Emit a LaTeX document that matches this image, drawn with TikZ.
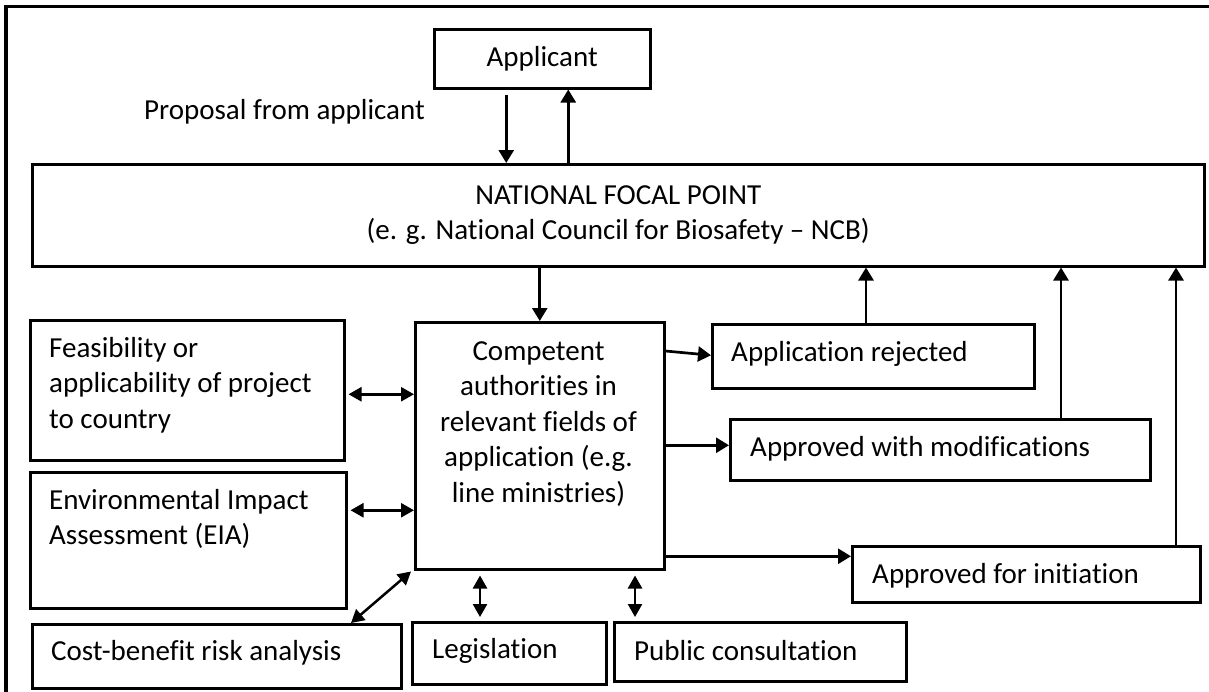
\documentclass[tikz,border=0pt]{standalone}
\usepackage{fontspec}
\setmainfont[Ligatures=NoCommon]{Carlito}
\usetikzlibrary{arrows.meta,calc}
\begin{document}
\begin{tikzpicture}[x=1pt,y=-1pt,
  box/.style={draw,line width=2.5pt,inner sep=0pt,anchor=north west},
  txt/.style={font=\fontsize{29}{35.5}\selectfont,inner sep=0pt},
  arr/.style={line width=2.7pt,-{Triangle[length=13pt,width=15pt]}},
  darr/.style={line width=2.5pt,{Triangle[length=13pt,width=14pt]}-{Triangle[length=13pt,width=14pt]}},
  frameline/.style={line width=3.2pt}]
\useasboundingbox (0,0) rectangle (1209,691);
\fill[white] (0,0) rectangle (1209,691);
\draw[frameline] (6,720) -- (6,6.5) -- (1230,6.5);

% boxes
\node[box,txt,minimum width=216pt,minimum height=59pt] (app) at (433,28) {Applicant};
\node[box,txt,align=center,minimum width=1172pt,minimum height=102pt] (nfp) at (31,163)
  {NATIONAL FOCAL POINT\\(e. g. National Council for Biosafety -- NCB)};
\node[box,minimum width=249pt,minimum height=247pt] (comp) at (414,321) {};
\node[box,minimum width=314pt,minimum height=140pt] (feas) at (29,319) {};
\node[box,minimum width=316pt,minimum height=136pt] (eia) at (29,471) {};
\node[box,minimum width=369pt,minimum height=64pt] (cost) at (31,623) {};
\node[box,minimum width=194pt,minimum height=62pt] (legis) at (411,621) {};
\node[box,minimum width=292pt,minimum height=59pt] (pub) at (613,621) {};
\node[box,minimum width=322pt,minimum height=64pt] (rej) at (711,323) {};
\node[box,minimum width=420pt,minimum height=61pt] (mod) at (729,418) {};
\node[box,minimum width=348pt,minimum height=56pt] (init) at (851,545) {};

% texts
\node[txt,anchor=west] (tprop) at (144,112) {Proposal from applicant};
\node[txt,anchor=west,align=left] (tfeas) at (49,385) {Feasibility or\\applicability of project\\to country};
\node[txt,anchor=west,align=left] (teia) at (49,519) {Environmental Impact\\Assessment (EIA)};
\node[txt,anchor=west] (tcost) at (51,653) {Cost-benefit risk analysis};
\node[txt,anchor=west] (tlegis) at (432,651) {Legislation};
\node[txt,anchor=west] (tpub) at (634,651) {Public consultation};
\node[txt,anchor=west] (trej) at (731,354) {Application rejected};
\node[txt,anchor=west] (tmod) at (750,449) {Approved with modifications};
\node[txt,anchor=west] (tinit) at (872,576) {Approved for initiation};
\node[txt,align=center] (tcomp) at (538.5,424) {Competent\\authorities in\\relevant fields of\\application (e.g.\\line ministries)};

% connectors
\path (app.south) ++(-36,0) coordinate (p1);
\draw[arr] ($(p1)+(0,5)$) -- (p1 |- nfp.north);
\path (app.south) ++(26,0) coordinate (p2);
\draw[arr] (p2 |- nfp.north) -- (p2);
\draw[arr] (comp.north |- nfp.south) -- (comp.north);

\path (feas.east) ++(3,4) coordinate (p3);
\draw[darr] (p3) -- (p3 -| comp.west);
\path (eia.east) ++(3,-30) coordinate (p4);
\draw[darr] (p4) -- (p4 -| comp.west);
\draw[darr] ($(comp.south west)+(-3,1)$) -- ($(cost.north west)+(320,0)$);

\path (comp.south west) ++(66,5) coordinate (p5);
\draw[darr] (p5) -- ($(p5 |- legis.north)+(0,-4)$);
\path (comp.south west) ++(221,5) coordinate (p6);
\draw[darr] (p6) -- ($(p6 |- pub.north)+(0,-4)$);

\draw[arr] ($(comp.north east)+(0,30)$) -- ($(rej.west)+(0,-1)$);
\path (mod.west) ++(0,-4.5) coordinate (p7);
\draw[arr] (p7 -| comp.east) -- (p7);
\path (init.west) ++(0,-18) coordinate (p8);
\draw[arr] (p8 -| comp.east) -- (p8);

\path (rej.north west) ++(155,0) coordinate (p9);
\draw[arr] (p9) -- (p9 |- nfp.south);
\path (mod.north west) ++(332,0) coordinate (p10);
\draw[arr] (p10) -- (p10 |- nfp.south);
\path (init.north west) ++(325,0) coordinate (p11);
\draw[arr] (p11) -- (p11 |- nfp.south);
\end{tikzpicture}
\end{document}
